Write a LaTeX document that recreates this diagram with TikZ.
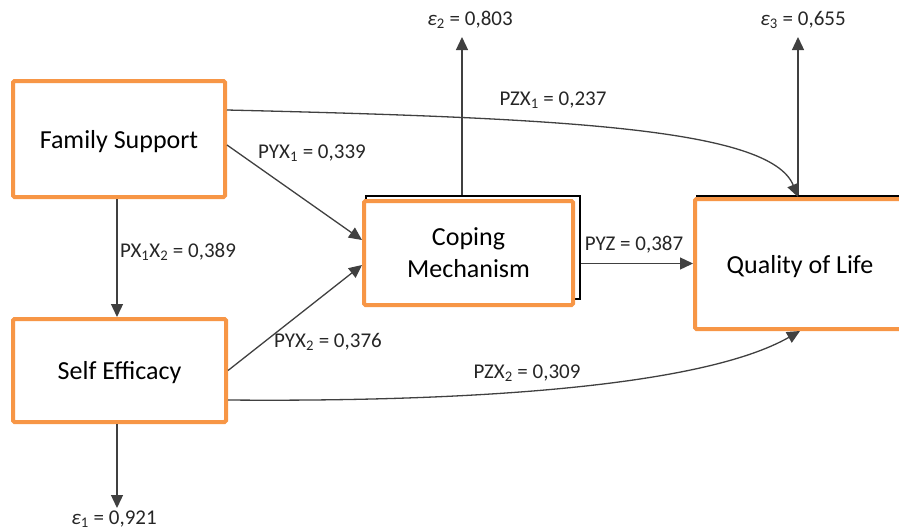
\documentclass[tikz,border=0pt]{standalone}
\usepackage{fontspec}
\setmainfont{Carlito}
\usepackage{tikz}
\usetikzlibrary{arrows.meta,shapes}
\definecolor{boxorange}{RGB}{247,150,70}
\tikzstyle{factor}=[rectangle,draw=boxorange,line width=4pt,fill=white,rounded corners=1.5pt,inner sep=0pt,align=center,font=\fontsize{26}{32}\selectfont]
\tikzstyle{shadowbox}=[rectangle,draw=black,line width=2pt,inner sep=0pt]
\tikzstyle{link} = [draw,line width=1.3pt,black!75,-{Triangle[length=13pt,width=12pt]}]
\tikzstyle{lbl}=[inner sep=0pt,text=black!85,font=\fontsize{21}{25}\selectfont]

\begin{document}
\begin{tikzpicture}[x=1pt,y=-1pt]
    \useasboundingbox (0,0) rectangle (899,531);
    % Draw the path model
    % First the black boxes that sit behind two of the variables
    \node[shadowbox,minimum width=214pt,minimum height=103pt] (copingback) at (473,247.5) {};
    \node[shadowbox,minimum width=224pt,minimum height=128pt] (qolback) at (809,260) {};
    % Then the variables
    \node[factor,text depth=0pt,minimum width=212pt,minimum height=116pt] (fam) at (119,139) {Family Support};
    \node[factor,text depth=0pt,minimum width=213pt,minimum height=103pt] (self) at (119.5,370.5) {Self Efficacy};
    \node[factor,minimum width=209pt,minimum height=104pt] (coping) at (468.5,253) {Coping\\Mechanism};
    \node[factor,text depth=0pt,minimum width=210pt,minimum height=130pt] (qol) at (800,264) {Quality of Life};
    % Free ends of the error arrows
    \coordinate (e1end) at (117,508);
    \coordinate (e2end) at (462,37);
    \coordinate (e3end) at (798,37);
    % Connect variables with arrows
    \path[link] ([xshift=-2pt]fam.south) -- ([xshift=-2pt]fam.south |- self.north);
    \path[link] ([yshift=-6pt]fam.east) -- ([yshift=13pt]coping.west);
    \path[link] (self.east) -- ([yshift=-12pt]coping.west);
    \path[link] ([yshift=-16pt]copingback.east) -- ([yshift=-16pt]copingback.east -| qol.west);
    \path[link] ([yshift=29pt]fam.east) .. controls (560,118) and (770,128) .. ([xshift=-2pt]qol.north);
    \path[link] ([yshift=-29.5pt]self.east) .. controls (460,402) and (700,388) .. (qol.south);
    \path[link] (self.south -| e1end) -- (e1end);
    \path[link] ([xshift=-11pt]copingback.north) -- (e2end);
    \path[link] (qolback.north -| e3end) -- (e3end);
    % Labels on the arrows
    \foreach \pos/\name/\txt in {{(178,252)/lpxx/{PX\textsubscript{1}X\textsubscript{2} = 0,389}},
                                 {(312,153)/lpyxone/{PYX\textsubscript{1} = 0,339}},
                                 {(328,342)/lpyxtwo/{PYX\textsubscript{2} = 0,376}},
                                 {(553,100)/lpzxone/{PZX\textsubscript{1} = 0,237}},
                                 {(527,373)/lpzxtwo/{PZX\textsubscript{2} = 0,309}},
                                 {(634,245)/lpyz/{PYZ = 0,387}},
                                 {(114,519)/le1/{\textit{ε}\textsubscript{1} = 0,921}},
                                 {(470,20)/le2/{\textit{ε}\textsubscript{2} = 0,803}},
                                 {(803,20)/le3/{\textit{ε}\textsubscript{3} = 0,655}}}
        \node[lbl] (\name) at \pos {\txt};
\end{tikzpicture}
\end{document}
